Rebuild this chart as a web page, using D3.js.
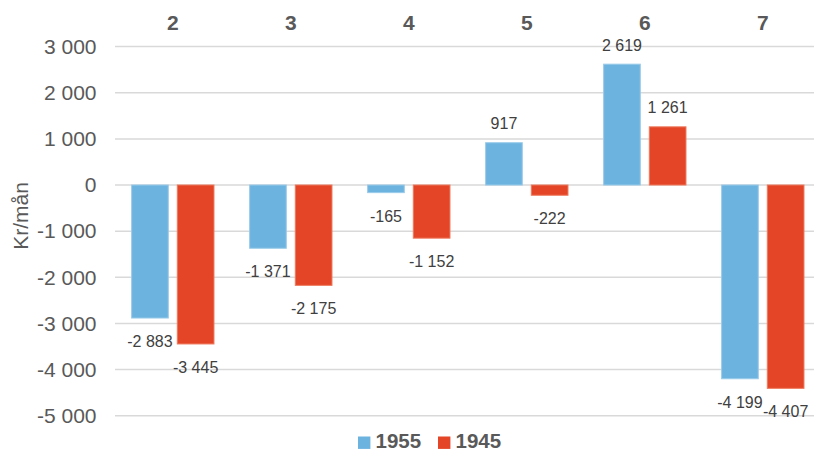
<!DOCTYPE html>
<html>
<head>
<meta charset="utf-8">
<script src="https://cdn.jsdelivr.net/npm/d3@7/dist/d3.min.js"></script>
<style>
  html, body { margin: 0; padding: 0; background: #fff; }
  svg { display: block; font-family: "Liberation Sans", Arial, sans-serif; }
</style>
</head>
<body>
<svg id="chart" width="814" height="452"></svg>
<script>
const categories = ["2", "3", "4", "5", "6", "7"];
const seriesNames = ["1955", "1945"];
const values1955 = [-2883, -1371, -165, 917, 2619, -4199];
const values1945 = [-3445, -2175, -1152, -222, 1261, -4407];
const yTicks = [3000, 2000, 1000, 0, -1000, -2000, -3000, -4000, -5000];
const colors = ["#6CB3DF", "#E34526"];
const strokes = ["#9ACBEA", "#EE7A5E"];
const yTitle = "Kr/mån";

const svg = d3.select("#chart");
const W = 814, H = 452;

const x = d3.scaleBand().domain(categories).range([113.8, 821.8]).padding(0);
const xs = d3.scaleBand().domain(seriesNames).range([0, x.bandwidth()])
  .paddingInner(0.197).paddingOuter(0.39);
const y = d3.scaleLinear().domain([-5000, 3000]).range([415.7, 46.6]);

const fmt = v => {
  const s = d3.format(",")(Math.abs(v)).replace(/,/g, " ");
  return (v < 0 ? "-" : "") + s;
};

// gridlines
svg.append("g").selectAll("line").data(yTicks).join("line")
  .attr("x1", 115).attr("x2", W)
  .attr("y1", d => y(d)).attr("y2", d => y(d))
  .attr("stroke", "#D9D9D9").attr("stroke-width", 1.5);

// y axis labels
const yAxis = d3.axisLeft(y).tickValues(yTicks).tickSize(0).tickPadding(0).tickFormat(fmt);
const ya = svg.append("g").attr("transform", "translate(96.5,0)").call(yAxis);
ya.select(".domain").remove();
ya.selectAll("text").attr("fill", "#595959").attr("font-size", 21)
  .attr("font-family", "Liberation Sans, Arial, sans-serif");

// y title
svg.append("text")
  .attr("transform", "translate(28,216) rotate(-90)")
  .attr("text-anchor", "middle")
  .attr("fill", "#595959").attr("font-size", 21)
  .text(yTitle);

// category labels at top
const xAxis = d3.axisTop(x).tickSize(0).tickPadding(0);
const xa = svg.append("g").attr("transform", "translate(0,30)").call(xAxis);
xa.select(".domain").remove();
xa.selectAll("text").attr("fill", "#595959").attr("font-size", 21)
  .attr("font-weight", "bold").attr("font-family", "Liberation Sans, Arial, sans-serif")
  .attr("dy", 0);

// bars
const rows = categories.map((c, i) => ({ cat: c, vals: [values1955[i], values1945[i]] }));
const groups = svg.append("g").selectAll("g").data(rows).join("g")
  .attr("transform", d => `translate(${x(d.cat)},0)`);

groups.selectAll("rect").data(d => d.vals.map((v, j) => ({ v, s: seriesNames[j], j })))
  .join("rect")
  .attr("x", d => xs(d.s))
  .attr("width", xs.bandwidth())
  .attr("y", d => Math.min(y(d.v), y(0)))
  .attr("height", d => Math.abs(y(d.v) - y(0)))
  .attr("fill", d => colors[d.j])
  .attr("stroke", d => strokes[d.j]).attr("stroke-width", 1);

groups.selectAll("text").data(d => d.vals.map((v, j) => ({ v, s: seriesNames[j], j })))
  .join("text")
  .attr("x", d => xs(d.s) + xs.bandwidth() / 2)
  .attr("y", d => d.v >= 0 ? y(d.v) - 13.4 : y(d.v) + 29)
  .attr("text-anchor", "middle")
  .attr("fill", "#404040").attr("font-size", 16)
  .text(d => fmt(d.v));

// legend
const legend = svg.append("g");
const legX = [358, 438];
seriesNames.forEach((s, i) => {
  legend.append("rect").attr("x", legX[i]).attr("y", 436.5).attr("width", 12.4).attr("height", 12.4)
    .attr("fill", colors[i]);
  legend.append("text").attr("x", legX[i] + 17.5).attr("y", 448.3)
    .attr("fill", "#595959").attr("font-size", 20.5).attr("font-weight", "bold")
    .text(s);
});
</script>
</body>
</html>
